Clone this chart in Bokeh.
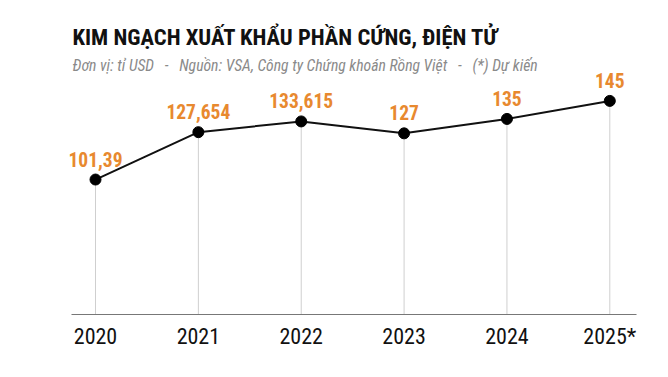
from bokeh.plotting import figure
from bokeh.models import Range1d, Label, LabelSet, ColumnDataSource, FixedTicker
from bokeh.core.properties import value
from bokeh.embed import file_html
from bokeh.resources import INLINE

years = ["2020", "2021", "2022", "2023", "2024", "2025*"]
values = [101.39, 127.654, 133.615, 127, 135, 145]
value_labels = ["101,39", "127,654", "133,615", "127", "135", "145"]

title_text = "KIM NGẠCH XUẤT KHẨU PHẦN CỨNG, ĐIỆN TỬ"
sub_text = "Đơn vị: tỉ USD\u00a0\u00a0\u00a0-\u00a0\u00a0\u00a0Nguồn: VSA, Công ty Chứng khoán Rồng Việt\u00a0\u00a0\u00a0-\u00a0\u00a0\u00a0(*) Dự kiến"

FONT = "Roboto Condensed"
ORANGE = "#E8892F"

W, H = 668, 377
left, right_b, bottom_b = 50, 32, 63
frame_w = W - left - right_b
frame_h = H - bottom_b

step = 102.86
x0, x1 = (left - 95) / step, (W - right_b - 95) / step
y0, y1 = 26.55, 196.24 + 8 / 1.805

p = figure(width=W, height=H, output_backend="svg", toolbar_location=None,
           x_range=Range1d(x0, x1), y_range=Range1d(y0, y1),
           min_border_left=left, min_border_right=right_b,
           min_border_top=0, min_border_bottom=bottom_b)
p.outline_line_color = None
p.xgrid.visible = False
p.ygrid.visible = False
p.yaxis.visible = False
p.background_fill_color = "white"
p.border_fill_color = "white"


def px_to_x(px):
    return x0 + (px - left) / frame_w * (x1 - x0)


def py_to_y(py):
    return y1 - py / frame_h * (y1 - y0)


xs = list(range(len(years)))
src = ColumnDataSource(dict(x=xs, y=values, lab=value_labels, base=[y0] * len(xs)))

p.segment(x0="x", y0="base", x1="x", y1="y", source=src, line_color="#cfcfcf", line_width=1)
p.line("x", "y", source=src, line_color="#111111", line_width=2)
p.scatter("x", "y", source=src, size=11, fill_color="#000000", line_color="#000000")

labels = LabelSet(x="x", y="y", text="lab", source=src, y_offset=13,
                  text_align="center", text_baseline="alphabetic",
                  text_font=value(FONT), text_font_style="bold", text_font_size="19.5px",
                  text_color=ORANGE)
p.add_layout(labels)

ax = p.xaxis[0]
ax.ticker = FixedTicker(ticks=xs)
ax.major_label_overrides = {i: y for i, y in enumerate(years)}
ax.bounds = (px_to_x(71), x1)
ax.major_tick_line_color = None
ax.minor_tick_line_color = None
ax.axis_line_color = "#777777"
ax.axis_line_width = 1.2
ax.major_label_text_font = FONT
ax.major_label_text_font_size = "22px"
ax.major_label_text_color = "#111111"
ax.major_label_standoff = 3

p.add_layout(Label(x=px_to_x(72), y=py_to_y(37), text=title_text, text_font=FONT,
                   text_font_style="bold", text_font_size="22.6px", text_color="#111111",
                   text_baseline="alphabetic"))
p.add_layout(Label(x=px_to_x(72), y=py_to_y(65), text=sub_text, text_font=FONT,
                   text_font_style="italic", text_font_size="15.7px", text_color="#8a8a8a",
                   text_baseline="alphabetic"))

open("out.html", "w").write(file_html(p, INLINE))
